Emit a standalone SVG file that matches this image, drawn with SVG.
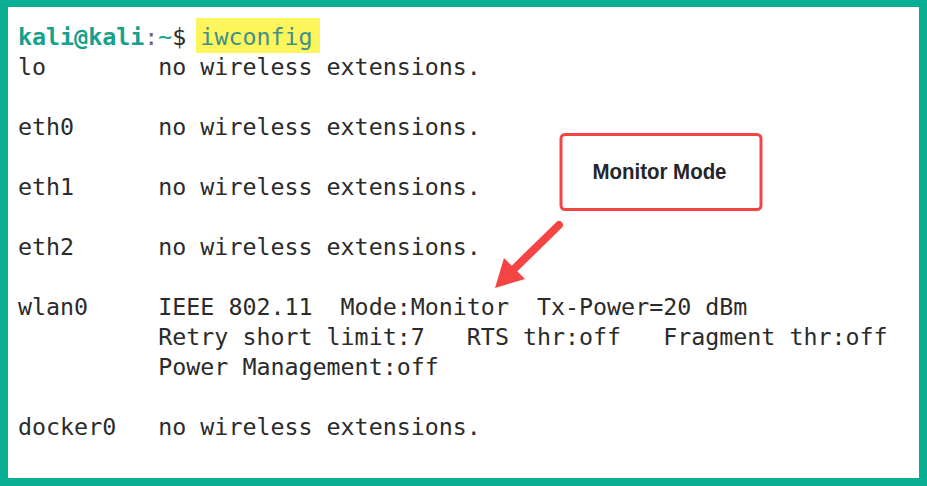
<svg xmlns="http://www.w3.org/2000/svg" width="927" height="486" viewBox="0 0 927 486">
<style>
.t{font-family:"DejaVu Sans Mono","Liberation Mono",monospace;font-size:23.3px;fill:#2b2b2b;white-space:pre}
.lbl{font-family:"Liberation Sans",Arial,sans-serif;font-weight:bold;font-size:22px;fill:#23262b}
</style>
<rect x="0" y="0" width="927" height="486" fill="#0aae93"/>
<rect x="8" y="7" width="911" height="471" fill="#ffffff"/>
<g id="terminal">
<rect x="196" y="18" width="124" height="35" fill="#fcf55c"/>
<text class="t" x="18" y="45" xml:space="preserve"><tspan fill="#17a08b" font-weight="bold">kali@kali</tspan><tspan fill="#6a6a6a">:</tspan><tspan fill="#17a08b">~</tspan><tspan fill="#2b2b2b">$ </tspan><tspan fill="#3f908a">iwconfig</tspan></text>
<text class="t" x="18" y="75" xml:space="preserve">lo        no wireless extensions.</text>
<text class="t" x="18" y="135" xml:space="preserve">eth0      no wireless extensions.</text>
<text class="t" x="18" y="195" xml:space="preserve">eth1      no wireless extensions.</text>
<text class="t" x="18" y="255" xml:space="preserve">eth2      no wireless extensions.</text>
<text class="t" x="18" y="315" xml:space="preserve">wlan0     IEEE 802.11  Mode:Monitor  Tx-Power=20 dBm</text>
<text class="t" x="18" y="345" xml:space="preserve">          Retry short limit:7   RTS thr:off   Fragment thr:off</text>
<text class="t" x="18" y="375" xml:space="preserve">          Power Management:off</text>
<text class="t" x="18" y="435" xml:space="preserve">docker0   no wireless extensions.</text>
</g>
<g id="monitor-mode">
<rect x="561" y="134.5" width="200" height="75" rx="4" fill="#ffffff" stroke="#f44545" stroke-width="3"/>
<text class="lbl" x="659.5" y="179" text-anchor="middle" textLength="134" lengthAdjust="spacingAndGlyphs">Monitor Mode</text>
</g>
<g id="connectors">
<line x1="559" y1="225" x2="513" y2="270" stroke="#f44545" stroke-width="8" stroke-linecap="round"/>
<polygon points="495,288 504,258 525,279" fill="#f44545"/>
</g>
</svg>
